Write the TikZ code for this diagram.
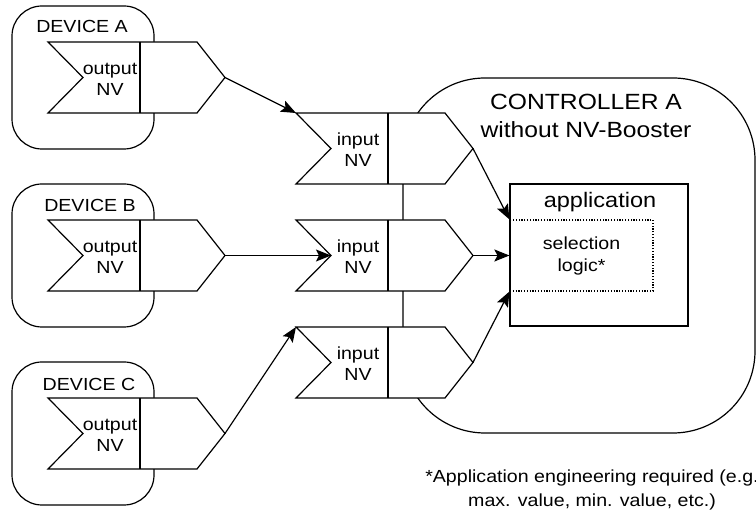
\documentclass[tikz,border=0pt]{standalone}
\usepackage{fontspec}
\setmainfont[FakeStretch=1.12]{Liberation Sans}
\usetikzlibrary{arrows.meta,positioning}

\begin{document}
\begin{tikzpicture}[
    x=1pt, y=-1pt,
    line width=1.2pt,
    device/.style={rectangle, draw, rounded corners=30pt, minimum width=142pt, minimum height=143pt},
    devlabel/.style={font=\fontsize{17.5}{21}\selectfont, anchor=base, inner sep=0pt},
    nvtext/.style={font=\fontsize{17.5}{21}\selectfont, align=center, inner sep=0pt},
    nvshape/.pic={
        \draw[fill=white] (0,0) -- (149,0) -- (177,35.5) -- (149,71) -- (0,71) -- (35,35.5) -- cycle;
        \draw (92,0) -- (92,71);
        \coordinate (-nw) at (0,0);
        \coordinate (-notch) at (35,35.5);
        \coordinate (-tip) at (177,35.5);
        \node[nvtext] (-text) at (62,37) {#1};
    },
    controller/.style={rectangle, draw, rounded corners=82pt, minimum width=352pt, minimum height=355pt},
    ctrltitle/.style={font=\fontsize{22}{28}\selectfont, align=center, inner sep=0pt},
    appbox/.style={rectangle, draw, minimum width=178pt, minimum height=142pt},
    applabel/.style={font=\fontsize{21}{25}\selectfont, inner sep=0pt},
    logicbox/.style={rectangle, draw, dash pattern=on 1.2pt off 1.6pt, minimum width=143pt, minimum height=71pt,
        font=\fontsize{17.5}{22}\selectfont, align=center, inner sep=0pt},
    note/.style={font=\fontsize{17.5}{24}\selectfont, align=center, inner sep=0pt},
    arrow/.style={-{Stealth[length=15pt,width=12pt,inset=3pt]}}
]
    \path[use as bounding box, fill=white] (0,0) rectangle (756,510);

    % Controller
    \node[controller] (ctrl) at (579,255.5) {};
    \node[ctrltitle] (ctrlname) at (586,116) {CONTROLLER A\\without NV-Booster};
    \node[appbox] (app) at (599,255) {};
    \node[applabel] (applabel) at (600,202.5) {application};
    \node[logicbox] (logic) at (581.5,255.5) {selection\\logic*};

    % Devices
    \node[device] (deva) at (83,77.5) {};
    \node[devlabel] (labela) at (82,33) {DEVICE A};
    \pic (outa) at (48,42) {nvshape={output\\NV}};

    \node[device] (devb) at (83,255.5) {};
    \node[devlabel] (labelb) at (90,212) {DEVICE B};
    \pic (outb) at (48,220) {nvshape={output\\NV}};

    \node[device] (devc) at (83,433.5) {};
    \node[devlabel] (labelc) at (89,391) {DEVICE C};
    \pic (outc) at (48,398) {nvshape={output\\NV}};

    % Inputs
    \pic (ina) at (296,113) {nvshape={input\\NV}};
    \pic (inb) at (296,220) {nvshape={input\\NV}};
    \pic (inc) at (296,327) {nvshape={input\\NV}};

    % Connections
    \draw[arrow] (outa-tip) -- (ina-nw);
    \draw[arrow] (outb-tip) -- (inb-notch);
    \draw[arrow] (outc-tip) -- (inc-nw);
    \draw[arrow] (ina-tip) -- (logic.north west);
    \draw[arrow] (inb-tip) -- (logic.west);
    \draw[arrow] (inc-tip) -- (logic.south west);

    \node[note] (footnote) at (592,490) {*Application engineering required (e.g.\\max. value, min. value, etc.)};
\end{tikzpicture}
\end{document}
